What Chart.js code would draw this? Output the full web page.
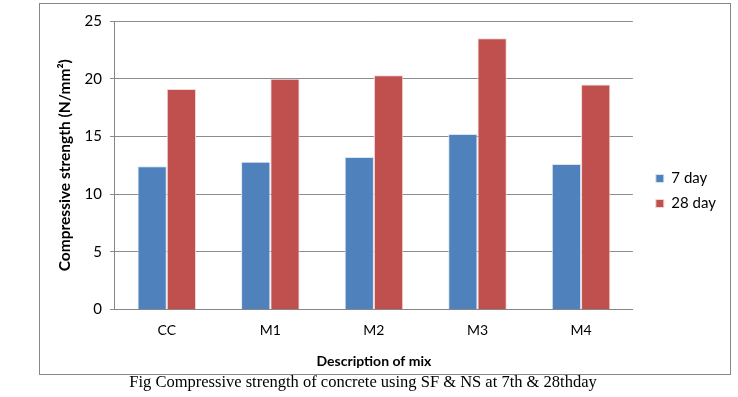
<!DOCTYPE html>
<html lang="en">
<head>
    <meta charset="UTF-8">
    <title>Compressive strength</title>
    <style>
        body {
            margin: 0;
            background-color: #fff;
            width: 738px;
            height: 397px;
            position: relative;
            overflow: hidden;
        }
        #frame {
            position: absolute;
            left: 39px;
            top: 3px;
            width: 690px;
            height: 370px;
            border: 1px solid #888;
        }
        #caption {
            position: absolute;
            left: 0;
            width: 726px;
            top: 372px;
            text-align: center;
            font-family: "Liberation Serif", "Times New Roman", serif;
            font-size: 16.5px;
            color: #000;
        }
    </style>
    <script src="https://cdn.jsdelivr.net/npm/chart.js"></script>
</head>
<body>
    <div id="frame"><canvas id="chart"></canvas></div>
    <div id="caption">Fig Compressive strength of concrete using SF &amp; NS at 7th &amp; 28thday</div>

    <script>
        const categories = ['CC', 'M1', 'M2', 'M3', 'M4'];
        const day7 = [12.4, 12.8, 13.2, 15.2, 12.6];
        const day28 = [19.1, 20.0, 20.3, 23.5, 19.5];
        const yMax = 25;
        const yStep = 5;

        const font = 'Lato, "Open Sans", sans-serif';

        new Chart(document.getElementById('chart').getContext('2d'), {
            type: 'bar',
            data: {
                labels: categories,
                datasets: [{
                    label: '7 day',
                    data: day7,
                    backgroundColor: '#4f81bd',
                    borderColor: '#dbe4f0',
                    borderWidth: 1
                }, {
                    label: '28 day',
                    data: day28,
                    backgroundColor: '#c0504d',
                    borderColor: '#f0d8d8',
                    borderWidth: 1
                }]
            },
            options: {
                responsive: true,
                maintainAspectRatio: false,
                animation: false,
                layout: { padding: { top: 8, right: 4, bottom: 4, left: 16 } },
                datasets: {
                    bar: { barPercentage: 1.0, categoryPercentage: 0.565 }
                },
                plugins: {
                    legend: {
                        position: 'right',
                        labels: {
                            boxWidth: 8,
                            boxHeight: 8,
                            padding: 10,
                            color: '#000',
                            font: { family: font, size: 15 }
                        }
                    },
                    tooltip: { enabled: false }
                },
                scales: {
                    x: {
                        grid: { display: false },
                        border: { display: true, color: '#868686' },
                        ticks: { color: '#000', padding: 5, font: { family: font, size: 14 } },
                        title: {
                            display: true,
                            text: 'Description of mix',
                            color: '#000',
                            padding: { top: 9, bottom: 0 },
                            font: { family: font, size: 14, weight: 'bold' }
                        }
                    },
                    y: {
                        min: 0,
                        max: yMax,
                        grid: { color: '#8c8c8c', tickLength: 5, tickColor: '#8c8c8c' },
                        border: { color: '#868686' },
                        ticks: { stepSize: yStep, color: '#000', padding: 8, font: { family: font, size: 15 } },
                        title: {
                            display: true,
                            text: 'Compressive strength (N/mm²)',
                            color: '#000',
                            padding: { top: 0, bottom: 2 },
                            font: { family: font, size: 15.5, weight: 'bold' }
                        }
                    },
                    // empty spacer between plot and legend
                    gap: {
                        type: 'linear',
                        position: 'right',
                        grid: { display: false },
                        border: { display: false },
                        ticks: { display: false },
                        afterFit: function (scale) { scale.width = 13; }
                    }
                }
            }
        });
    </script>
</body>
</html>
